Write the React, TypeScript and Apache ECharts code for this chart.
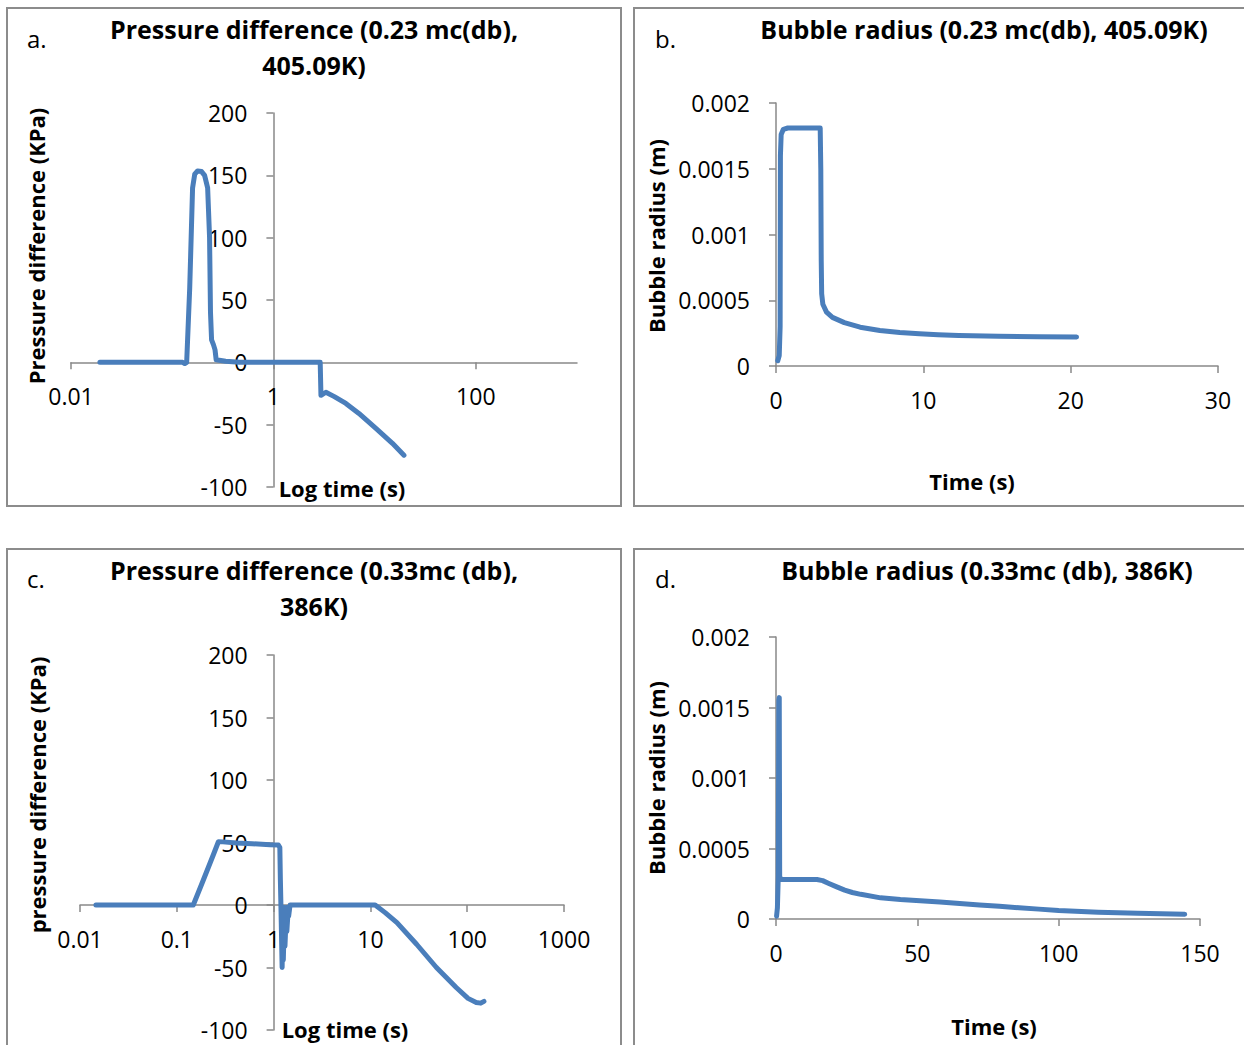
import React, { useEffect, useRef } from 'react';
import * as echarts from 'echarts';

// (a) Pressure difference, 0.23 mc(db), 405.09 K — time in s, pressure in kPa
const aTime = [0.0193, 0.05, 0.1, 0.127, 0.133, 0.139, 0.149, 0.159, 0.167, 0.178, 0.195, 0.209, 0.224, 0.234, 0.239, 0.245, 0.256, 0.265, 0.272, 0.337, 0.462, 1, 2.9, 2.95, 3.3, 4.0, 5.2, 7.0, 10.3, 15.0, 19.5];
const aPressure = [0, 0, 0, 0, -1, 0, 60, 140, 151, 153.5, 153, 150, 140, 100, 40, 18, 14, 10, 2, 0.8, 0, 0, 0, -26.5, -24, -27.5, -33, -41, -53, -65, -74.5];

// (b) Bubble radius, 0.23 mc(db), 405.09 K — time in s, radius in m
const bTime = [0.12, 0.22, 0.28, 0.3, 0.35, 0.5, 0.8, 3.0, 3.04, 3.07, 3.1, 3.18, 3.43, 3.83, 4.64, 5.71, 7.05, 8.4, 9.73, 11, 12.4, 15.1, 17.8, 20.4];
const bRadius = [0.00004, 0.00008, 0.0003, 0.0016, 0.00176, 0.0018, 0.00181, 0.00181, 0.0015, 0.0008, 0.00055, 0.00047, 0.00041, 0.00037, 0.00033, 0.000295, 0.00027, 0.000255, 0.000245, 0.000238, 0.000232, 0.000226, 0.000222, 0.00022];

// (c) Pressure difference, 0.33 mc(db), 386 K
const cTime = [0.0146, 0.148, 0.188, 0.238, 0.269, 0.3, 0.416, 0.6, 0.918, 1.12, 1.16, 1.175, 1.19, 1.225, 1.25, 1.26, 1.3, 1.31, 1.36, 1.37, 1.42, 1.43, 1.48, 11.2, 14.2, 18.8, 30, 48.1, 77, 102, 124, 138, 149];
const cPressure = [0, 0, 20, 40, 50.6, 50.5, 49.6, 49, 48.2, 48, 46, 20, 0, -50, -2, -44, -2, -33, -2, -21, -2, -9, 0, 0, -6.1, -14.1, -31.4, -50, -66, -74.7, -78, -78.5, -77.1];

// (d) Bubble radius, 0.33 mc(db), 386 K
const dTime = [0.2, 0.5, 0.8, 1.0, 1.15, 1.3, 1.8, 14.5, 16.5, 18.7, 21.5, 24.3, 27, 30, 37, 44, 51, 58, 65, 72, 79, 86, 93, 100, 114, 128, 144.6];
const dRadius = [0.00002, 0.00008, 0.0003, 0.00155, 0.00157, 0.0003, 0.00028, 0.00028, 0.000272, 0.000252, 0.000228, 0.000205, 0.000188, 0.000175, 0.00015, 0.000138, 0.00013, 0.00012, 0.00011, 0.0001, 0.00009, 0.00008, 0.00007, 0.00006, 0.000048, 0.00004, 0.000034];

// Axis ranges and tick labels
const logTicksA = [0.01, 1, 100];
const logTicksC = [0.01, 0.1, 1, 10, 100, 1000];
const logMin = 0.01;
const logMax = 1000;
const pressureRange = { min: -100, max: 200, interval: 50 };
const radiusRange = { min: 0, max: 0.002, interval: 0.0005 };
const timeRangeB = { min: 0, max: 30, interval: 10 };
const timeRangeD = { min: 0, max: 150, interval: 50 };

const FONT = '"Open Sans", Lato, sans-serif';
const BLUE = '#4a7ebb';
const AXIS = '#898989';
const FRAME = '#8c8c8c';

// plot-area rectangles in px
const grids = [
  { left: 71, top: 113, width: 506, height: 374 },
  { left: 776, top: 103, width: 442, height: 263 },
  { left: 80, top: 655, width: 484, height: 375 },
  { left: 776, top: 637, width: 424, height: 282 },
];

const pairs = (xs: number[], ys: number[]) => xs.map((x, i) => [x, ys[i]]);

// offset that puts the pressure axis at t = 1 on the log time axis
const yAtOne = (width: number) =>
  -width * (Math.log10(1) - Math.log10(logMin)) / (Math.log10(logMax) - Math.log10(logMin));

// offset that puts the time axis at a pressure of 0
const xAtZero = (height: number) =>
  -height * (0 - pressureRange.min) / (pressureRange.max - pressureRange.min);

const lineStyle = { color: AXIS, width: 1.5 };
const labelStyle = { color: '#000', fontFamily: FONT, fontSize: 23 };

function xLog(gridIndex: number, ticks: number[], offset: number) {
  return {
    type: 'log', gridIndex, logBase: 10, min: logMin, max: logMax, position: 'bottom', offset,
    axisLine: { show: true, onZero: false, lineStyle },
    axisTick: { show: true, length: 7, customValues: ticks, lineStyle },
    axisLabel: { ...labelStyle, margin: 22, customValues: ticks, formatter: (v: number) => String(v) },
    splitLine: { show: false },
  };
}

function xValue(gridIndex: number, r: any) {
  return {
    type: 'value', gridIndex, ...r,
    axisLine: { show: true, onZero: false, lineStyle },
    axisTick: { show: true, length: 7, lineStyle },
    axisLabel: { ...labelStyle, margin: 22 },
    splitLine: { show: false },
  };
}

function yValue(gridIndex: number, r: any, offset = 0) {
  return {
    type: 'value', gridIndex, ...r, offset,
    axisLine: { show: true, onZero: false, lineStyle },
    axisTick: { show: true, length: 7, lineStyle },
    axisLabel: { ...labelStyle, margin: 26 },
    splitLine: { show: false },
  };
}

function txt(text: string, x: number, y: number, size: number, bold: boolean, extra: any = {}) {
  return {
    type: 'text', x, y, ...extra,
    style: {
      text, fill: '#000', font: `${bold ? 'bold ' : ''}${size}px ${FONT}`,
      align: extra.align || 'center', verticalAlign: 'middle',
    },
  };
}

function frame(x: number, y: number, w: number, h: number) {
  return { type: 'rect', shape: { x, y, width: w, height: h }, style: { fill: 'none', stroke: FRAME, lineWidth: 2 } };
}

function series(i: number, data: number[][]) {
  return {
    type: 'line', xAxisIndex: i, yAxisIndex: i, data, showSymbol: false, symbol: 'none',
    lineStyle: { color: BLUE, width: 5, cap: 'round', join: 'round' },
  };
}

export default function App() {
  const ref = useRef<HTMLDivElement>(null);
  useEffect(() => {
    if (!ref.current) return;
    const chart = echarts.init(ref.current, undefined, { renderer: 'svg' });
    chart.setOption({
      animation: false,
      backgroundColor: '#fff',
      grid: grids.map((g) => ({ ...g, containLabel: false })),
      xAxis: [
        xLog(0, logTicksA, xAtZero(grids[0].height)),
        xValue(1, timeRangeB),
        xLog(2, logTicksC, xAtZero(grids[2].height)),
        xValue(3, timeRangeD),
      ],
      yAxis: [
        yValue(0, pressureRange, yAtOne(grids[0].width)),
        yValue(1, radiusRange),
        yValue(2, pressureRange, yAtOne(grids[2].width)),
        yValue(3, radiusRange),
      ],
      series: [
        series(0, pairs(aTime, aPressure)),
        series(1, pairs(bTime, bRadius)),
        series(2, pairs(cTime, cPressure)),
        series(3, pairs(dTime, dRadius)),
      ],
      graphic: [
        frame(7, 8, 614, 498),
        frame(634, 8, 620, 498),
        frame(7, 549, 614, 510),
        frame(634, 549, 620, 510),
        txt('a.', 27, 38, 24, false, { align: 'left' }),
        txt('b.', 655, 38, 24, false, { align: 'left' }),
        txt('c.', 27, 578, 24, false, { align: 'left' }),
        txt('d.', 655, 578, 24, false, { align: 'left' }),
        txt('Pressure difference (0.23 mc(db),', 314, 29, 25, true),
        txt('405.09K)', 314, 65, 25, true),
        txt('Bubble radius (0.23 mc(db), 405.09K)', 984, 29, 25, true),
        txt('Pressure difference (0.33mc (db),', 314, 570, 25, true),
        txt('386K)', 314, 606, 25, true),
        txt('Bubble radius (0.33mc (db), 386K)', 987, 570, 25, true),
        txt('Pressure difference (KPa)', 36, 246, 22, true, { rotation: Math.PI / 2 }),
        txt('Bubble radius (m)', 656, 236, 22, true, { rotation: Math.PI / 2 }),
        txt('pressure difference (KPa)', 37, 795, 22, true, { rotation: Math.PI / 2 }),
        txt('Bubble radius (m)', 656, 778, 22, true, { rotation: Math.PI / 2 }),
        txt('Log time (s)', 342, 488, 22, true),
        txt('Time (s)', 972, 481, 22, true),
        txt('Log time (s)', 345, 1029, 22, true),
        txt('Time (s)', 994, 1026, 22, true),
      ],
    });
    return () => chart.dispose();
  }, []);
  return (
    <div
      ref={ref}
      style={{ position: 'absolute', left: 0, top: 0, width: 1244, height: 1045, background: '#fff' }}
    />
  );
}
